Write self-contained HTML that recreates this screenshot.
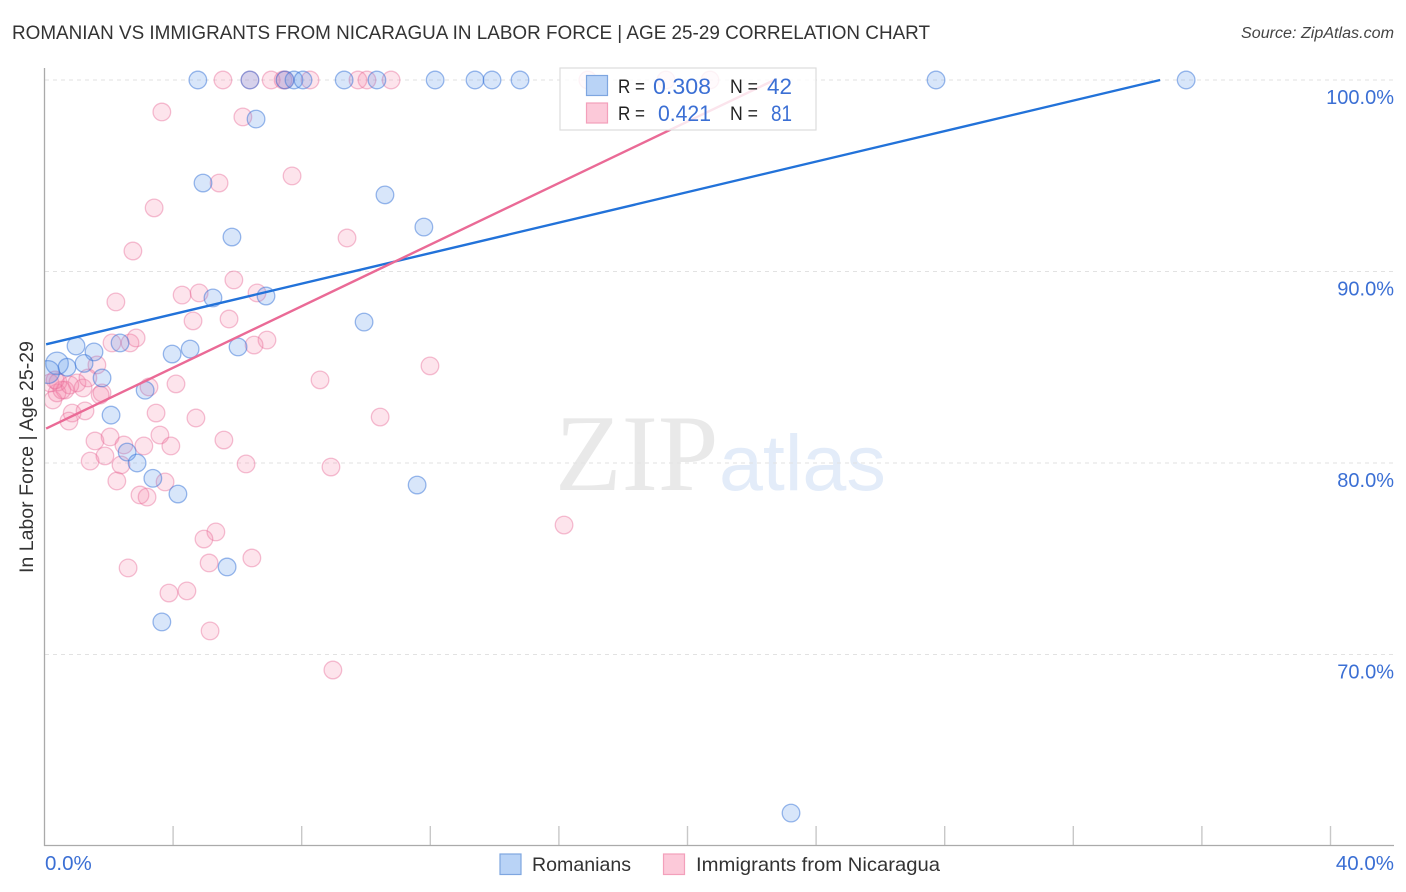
<!DOCTYPE html>
<html lang="en">
<head>
<meta charset="utf-8">
<title>Romanian vs Immigrants from Nicaragua in Labor Force | Age 25-29 Correlation Chart</title>
<style>
html,body{margin:0;padding:0;background:#fff;width:1406px;height:892px;overflow:hidden}
svg{display:block;font-family:"Liberation Sans",sans-serif}
</style>
</head>
<body>
<svg id="chart" width="1406" height="892" viewBox="0 0 1406 892" xmlns="http://www.w3.org/2000/svg">
  <defs>
    <clipPath id="plot-clip"><rect x="45" y="60" width="1349" height="785"/></clipPath>
  </defs>
  <text x="12" y="39" font-size="19" fill="#333" textLength="918" lengthAdjust="spacingAndGlyphs">ROMANIAN VS IMMIGRANTS FROM NICARAGUA IN LABOR FORCE | AGE 25-29 CORRELATION CHART</text>
  <text x="1241" y="38" font-size="15.5" font-style="italic" fill="#444" textLength="153" lengthAdjust="spacingAndGlyphs">Source: ZipAtlas.com</text>
  <g>
    <text x="555" y="490" font-family="'Liberation Serif',serif" font-size="109" fill="#e9e9e9">ZIP</text>
    <text x="719" y="490" font-size="79" fill="#e3ecf9">atlas</text>
  </g>
  <g id="grid"></g>
  <g id="axes"></g>
  <g id="points" clip-path="url(#plot-clip)"></g>
  <g id="trends"></g>
  <text transform="translate(33,457) rotate(-90)" font-size="19" fill="#333" text-anchor="middle" textLength="232" lengthAdjust="spacingAndGlyphs">In Labor Force | Age 25-29</text>
  <g>
    <rect x="560" y="68" width="256" height="62" fill="#fff" fill-opacity="0.82" stroke="#ddd" stroke-width="1.2"/>
    <rect x="586.5" y="75.5" width="21" height="20" fill="#b9d3f6" stroke="#7ea6e0" stroke-width="1.2"/>
    <rect x="586.5" y="103" width="21" height="20" fill="#fcc9d9" stroke="#f3a0bb" stroke-width="1.2"/>
    <text x="618" y="93" font-size="19" fill="#222" textLength="27" lengthAdjust="spacingAndGlyphs">R =</text>
    <text x="653" y="94" font-size="22" fill="#3b6fd4" textLength="58" lengthAdjust="spacingAndGlyphs">0.308</text>
    <text x="730" y="93" font-size="19" fill="#222" textLength="28" lengthAdjust="spacingAndGlyphs">N =</text>
    <text x="767" y="94" font-size="22" fill="#3b6fd4" textLength="25" lengthAdjust="spacingAndGlyphs">42</text>
    <text x="618" y="120" font-size="19" fill="#222" textLength="27" lengthAdjust="spacingAndGlyphs">R =</text>
    <text x="658" y="121" font-size="22" fill="#3b6fd4" textLength="53" lengthAdjust="spacingAndGlyphs">0.421</text>
    <text x="730" y="120" font-size="19" fill="#222" textLength="28" lengthAdjust="spacingAndGlyphs">N =</text>
    <text x="771" y="121" font-size="22" fill="#3b6fd4" textLength="21" lengthAdjust="spacingAndGlyphs">81</text>
  </g>
  <g>
    <rect x="500" y="854" width="21" height="20.5" fill="#b9d3f6" stroke="#7ea6e0" stroke-width="1.2"/>
    <text x="532" y="871" font-size="19.5" fill="#333" textLength="99" lengthAdjust="spacingAndGlyphs">Romanians</text>
    <rect x="663.5" y="854" width="21" height="20.5" fill="#fcc9d9" stroke="#f3a0bb" stroke-width="1.2"/>
    <text x="696" y="871" font-size="19.5" fill="#333" textLength="244" lengthAdjust="spacingAndGlyphs">Immigrants from Nicaragua</text>
  </g>
</svg>
<script>
const yTicks = [100, 90, 80, 70];
const yTickLabels = ["100.0%", "90.0%", "80.0%", "70.0%"];
const xTicks = [0, 4, 8, 12, 16, 20, 24, 28, 32, 36, 40];
const xEndLabels = ["0.0%", "40.0%"];

const romaniansX = [4.77,6.39,7.48,7.76,8.04,9.32,10.34,12.15,13.39,13.92,14.79,27.73,35.51,6.58,4.93,10.59,11.80,5.83,6.89,5.24,9.94,6.02,2.35,0.98,4.53,3.97,1.54,0.39,1.23,0.70,1.79,3.13,2.07,2.57,2.88,3.37,4.15,11.59,5.68,3.65,23.22,0.11];
const romaniansY = [100,100,100,100,100,100,100,100,100,100,100,100,100,97.96,94.62,94.0,92.32,91.8,88.72,88.62,87.36,86.06,86.27,86.11,85.95,85.69,85.8,85.2,85.2,85.0,84.44,83.8,82.5,80.57,80.0,79.2,78.38,78.85,74.57,71.7,61.72,84.75];
const romaniansWeight = [1,1,1,1,1,1,1,1,1,1,1,1,1,1,1,1,1,1,1,1,1,1,1,1,1,1,1,1.28,1,1,1,1,1,1,1,1,1,1,1,1,1,1.3];

const nicaraguaX = [5.55,6.39,7.05,7.42,7.48,8.26,9.75,10.03,10.78,16.90,19.33,20.70,6.17,3.65,5.43,7.70,3.41,9.41,2.75,5.89,6.61,4.28,4.81,2.22,5.74,4.62,6.92,6.52,11.99,8.57,10.44,8.91,16.16,8.97,2.60,3.87,4.43,5.15,5.33,4.96,5.12,6.45,2.10,2.66,2.85,1.63,3.25,4.09,3.47,4.71,0.86,1.26,0.76,1.57,2.04,2.47,3.09,3.59,3.93,5.58,6.27,1.42,1.88,2.38,2.25,3.75,2.97,3.19,1.79,1.01,1.20,0.64,0.26,0.39,0.17,0.54,1.35,1.73,0.42,0.79,0.33];
const nicaraguaY = [100,100,100,100,100,100,100,100,100,100,100,100,98.07,98.33,94.62,94.99,93.32,91.75,91.07,89.56,88.88,88.77,88.88,88.41,87.52,87.42,86.42,86.16,85.07,84.34,82.40,79.79,76.76,69.19,74.52,73.21,73.32,71.23,76.40,76.03,74.78,75.04,86.27,86.27,86.53,85.12,83.97,84.13,82.61,82.35,82.61,82.72,82.19,81.15,81.36,80.94,80.89,81.46,80.89,81.20,79.95,80.10,80.37,79.90,79.06,79.01,78.33,78.22,83.66,84.18,83.92,83.81,83.29,83.66,84.18,83.81,84.44,83.55,84.23,84.07,84.34];

const romaniansTrendX = [0.05, 34.7];
const romaniansTrendY = [86.2, 100];
const nicaraguaTrendX = [0.05, 22.7];
const nicaraguaTrendY = [81.8, 100];

const SVG_NS = "http://www.w3.org/2000/svg";
const xScale = v => 44.5 + v * 32.15;
const yScale = v => 80 + (100 - v) * 19.15;
const gridLayer = document.getElementById("grid");
const axesLayer = document.getElementById("axes");
const pointLayer = document.getElementById("points");
const trendLayer = document.getElementById("trends");

function make(tag, attrs, parent) {
  const el = document.createElementNS(SVG_NS, tag);
  for (const key in attrs) el.setAttribute(key, attrs[key]);
  parent.appendChild(el);
  return el;
}

yTicks.forEach((tick, i) => {
  const line = make("line", {x1: 45, x2: 1394, y1: yScale(tick), y2: yScale(tick), stroke: "#e2e2e2", "stroke-width": 1, "stroke-dasharray": "4 4"}, gridLayer);
  
  
  const label = make("text", {x: 1394, y: yScale(tick) + 24, "font-size": 20, fill: "#3b6fd4", "text-anchor": "end"}, axesLayer);
  label.textContent = yTickLabels[i];
  
  
});

xTicks.slice(1).forEach(tick => {
  const line = make("line", {x1: xScale(tick), x2: xScale(tick), y1: 826, y2: 845, stroke: "#c8c8c8", "stroke-width": 1.4}, axesLayer);
  
  
});

const yAxis = make("line", {x1: 44.5, x2: 44.5, y1: 68, y2: 846, stroke: "#aaa", "stroke-width": 1.3}, axesLayer);


const xAxis = make("line", {x1: 44, x2: 1394, y1: 845.5, y2: 845.5, stroke: "#aaa", "stroke-width": 1.3}, axesLayer);



const xLabelLeft = make("text", {x: 45, y: 870, "font-size": 20.5, fill: "#3b6fd4"}, axesLayer);
xLabelLeft.textContent = xEndLabels[0];


const xLabelRight = make("text", {x: 1394, y: 870, "font-size": 20.5, fill: "#3b6fd4", "text-anchor": "end"}, axesLayer);
xLabelRight.textContent = xEndLabels[1];



nicaraguaX.forEach((value, i) => {
  const dot = make("circle", {cx: xScale(value), cy: yScale(nicaraguaY[i]), r: 8.8, fill: "rgba(244,130,170,0.22)", stroke: "rgba(232,105,150,0.42)", "stroke-width": 1.3}, pointLayer);
  
  
});

romaniansX.forEach((value, i) => {
  const dot = make("circle", {cx: xScale(value), cy: yScale(romaniansY[i]), r: 8.8 * romaniansWeight[i], fill: "rgba(90,150,235,0.24)", stroke: "rgba(55,115,215,0.5)", "stroke-width": 1.3}, pointLayer);
  
  
});

const blueTrend = make("line", {x1: xScale(romaniansTrendX[0]), y1: yScale(romaniansTrendY[0]), x2: xScale(romaniansTrendX[1]), y2: yScale(romaniansTrendY[1]), stroke: "#2272d9", "stroke-width": 2.4}, trendLayer);


const pinkTrend = make("line", {x1: xScale(nicaraguaTrendX[0]), y1: yScale(nicaraguaTrendY[0]), x2: xScale(nicaraguaTrendX[1]), y2: yScale(nicaraguaTrendY[1]), stroke: "#ea6a96", "stroke-width": 2.4}, trendLayer);


</script>
</body>
</html>
